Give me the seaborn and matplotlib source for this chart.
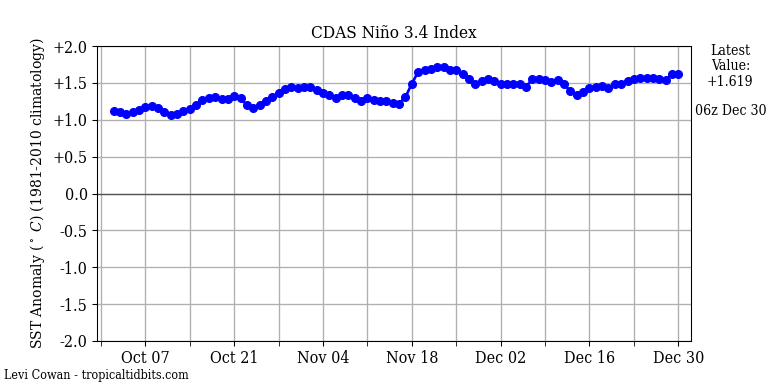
import pandas as pd
import matplotlib
matplotlib.use('Agg')
import matplotlib.pyplot as plt
import matplotlib.dates as mdates
import matplotlib.ticker as mticker
import seaborn as sns

# --- Data: daily CDAS Nino 3.4 anomalies, Oct 2 - Dec 30 ---
start_date = '2023-10-02'
end_date = '2023-12-30'
anomaly = [
    1.12, 1.10, 1.08, 1.10, 1.13, 1.18, 1.19, 1.16, 1.10, 1.06,
    1.08, 1.12, 1.15, 1.20, 1.27, 1.29, 1.31, 1.28, 1.28, 1.32,
    1.29, 1.20, 1.16, 1.20, 1.26, 1.31, 1.37, 1.42, 1.45, 1.43,
    1.45, 1.44, 1.40, 1.37, 1.33, 1.30, 1.33, 1.33, 1.30, 1.25,
    1.29, 1.27, 1.26, 1.25, 1.23, 1.22, 1.31, 1.49, 1.65, 1.68,
    1.69, 1.72, 1.71, 1.68, 1.68, 1.62, 1.55, 1.49, 1.53, 1.55,
    1.52, 1.48, 1.49, 1.49, 1.48, 1.45, 1.55, 1.55, 1.54, 1.51,
    1.54, 1.48, 1.39, 1.34, 1.38, 1.43, 1.45, 1.46, 1.43, 1.48,
    1.48, 1.53, 1.56, 1.57, 1.57, 1.57, 1.56, 1.54, 1.62, 1.619,
]
y_ticks = [-2.0, -1.5, -1.0, -0.5, 0.0, 0.5, 1.0, 1.5, 2.0]
y_tick_labels = ['-2.0', '-1.5', '-1.0', '-0.5', '0.0', '+0.5', '+1.0', '+1.5', '+2.0']
major_dates = pd.date_range('2023-10-07', '2023-12-30', freq='14D')
minor_dates = pd.date_range('2023-09-30', '2023-12-23', freq='14D')

df = pd.DataFrame({'date': pd.date_range(start_date, end_date, freq='D'),
                   'anomaly': anomaly})

plt.rcParams['font.family'] = 'DejaVu Serif'
plt.rcParams['font.stretch'] = 'condensed'
plt.rcParams['mathtext.fontset'] = 'dejavuserif'

fig = plt.figure(figsize=(8, 4), dpi=96)
ax = fig.add_axes([0.1263, 0.112, 0.7734, 0.768])

sns.lineplot(ax=ax, data=df, x='date', y='anomaly', color='blue', linewidth=2,
             marker='o', markersize=6, markeredgecolor='blue', zorder=3)

ax.axhline(0, color='#555555', linewidth=1, zorder=2)

ax.set_ylim(-2.0, 2.0)
ax.set_yticks(y_ticks)
ax.set_yticklabels(y_tick_labels, fontsize=12)

ax.set_xlim(pd.Timestamp('2023-09-29 09:00'), pd.Timestamp('2024-01-01'))
ax.xaxis.set_major_locator(mticker.FixedLocator(mdates.date2num(major_dates)))
ax.xaxis.set_minor_locator(mticker.FixedLocator(mdates.date2num(minor_dates)))
ax.xaxis.set_major_formatter(mdates.DateFormatter('%b %d'))
ax.tick_params(axis='x', which='major', labelsize=12)
ax.tick_params(axis='x', which='minor', length=3.5)

ax.grid(True, which='both', color='#b0b0b0', linewidth=1, zorder=0)
ax.set_axisbelow(True)

ax.set_xlabel('')
ax.set_ylabel(r'SST Anomaly ($^\circ\ C$) (1981-2010 climatology)', fontsize=11.6)
ax.set_title('CDAS Niño 3.4 Index', fontsize=12.8)

fig.text(0.951, 0.827, 'Latest\nValue:\n+' + f'{anomaly[-1]:.3f}',
         ha='center', va='center', fontsize=10.5, linespacing=1.1)
fig.text(0.951, 0.711, '06z Dec 30', ha='center', va='center', fontsize=10.5)
fig.text(0.005, 0.022, 'Levi Cowan - tropicaltidbits.com', ha='left',
         va='center', fontsize=9.4)

plt.savefig('out.png', dpi=96)
